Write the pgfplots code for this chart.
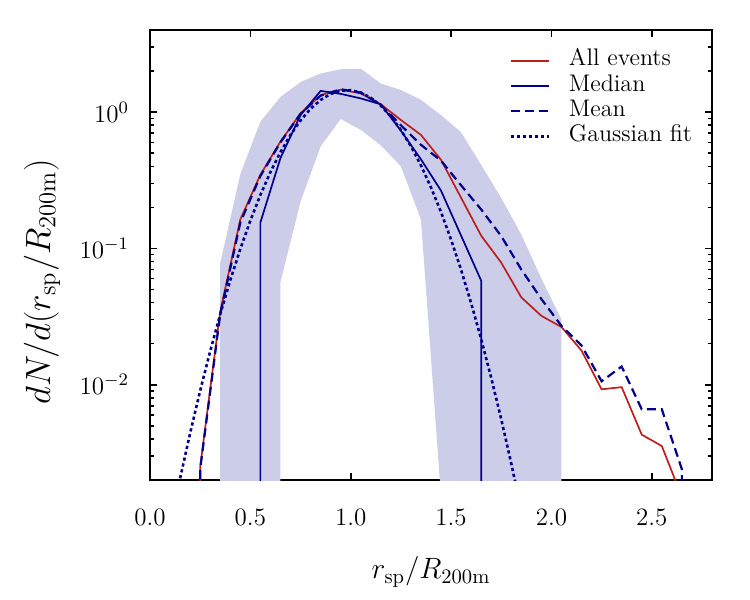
\documentclass[border=0pt]{standalone}
\usepackage{fix-cm}
\usepackage{pgfplots}
\pgfplotsset{compat=1.18}
\definecolor{cred}{RGB}{190,30,30}
\definecolor{cblue}{RGB}{0,0,140}
\definecolor{cband}{RGB}{204,205,232}
\begin{document}
\begin{tikzpicture}
\useasboundingbox (-75pt,-60pt) rectangle (300pt,240pt);
\begin{axis}[
 at={(0,0)}, anchor=south west,
 scale only axis, width=281pt, height=225pt,
 xmin=0, xmax=2.8, ymin=0.002, ymax=4, ymode=log,
 xtick={0,0.5,1,1.5,2,2.5},
 xticklabels={0.0,0.5,1.0,1.5,2.0,2.5},
 ytick={0.01,0.1,1},
 yticklabels={$10^{-2}$,$10^{-1}$,$10^{0}$},
 minor ytick={0.003,0.004,0.005,0.006,0.007,0.008,0.009,0.02,0.03,0.04,0.05,0.06,0.07,0.08,0.09,0.2,0.3,0.4,0.5,0.6,0.7,0.8,0.9,2,3},
 tick align=inside,
 major tick length=3.5pt, minor tick length=2pt,
 every tick/.style={black, line width=0.8pt},
 axis line style={line width=1pt},
 tick label style={font=\fontsize{12.5}{15}\selectfont},
 xticklabel style={anchor=center, yshift=-18.5pt},
 yticklabel style={anchor=east, xshift=-7pt},
 xlabel={$r_{\mathrm{sp}}/R_{\mathrm{200m}}$},
 ylabel={$dN/d(r_{\mathrm{sp}}/R_{\mathrm{200m}})$},
 xlabel style={font=\fontsize{14.7}{17}\selectfont, at={(axis description cs:0.5,-0.204)}, anchor=center},
 ylabel style={font=\fontsize{17.5}{20}\selectfont, at={(axis description cs:-0.192,0.44)}, anchor=center},
 legend style={at={(axis description cs:0.628,0.9635)}, anchor=north west, draw=none, fill=none,
   font=\fontsize{12}{14}\selectfont, row sep=2.6pt,
   nodes={inner sep=0pt, text height=0.75em, text depth=0.25em},
   /tikz/every odd column/.append style={column sep=9.5pt}},
 legend cell align=left,
 legend image code/.code={\draw[#1] (0pt,0pt) -- (19pt,0pt);},
]
% band
\addplot[fill=cband, draw=none, forget plot] coordinates {
 (0.35,0.001) (0.35,0.078) (0.45,0.35) (0.55,0.85) (0.65,1.29) (0.75,1.66) (0.85,1.92)
 (0.95,2.06) (1.05,2.08) (1.15,1.62) (1.25,1.45) (1.35,1.23) (1.45,0.95) (1.55,0.71)
 (1.65,0.41) (1.75,0.234) (1.85,0.126) (1.95,0.060) (2.05,0.030) (2.05,0.001)
 (1.45,0.0015) (1.35,0.163) (1.25,0.40) (1.15,0.57) (1.05,0.74) (0.95,0.89) (0.85,0.56)
 (0.75,0.22) (0.65,0.057) (0.65,0.001)};
% all events
\addplot[cred, line width=0.85pt] coordinates {
 (0.25,0.001) (0.25,0.0025) (0.35,0.0345) (0.45,0.163) (0.55,0.347) (0.65,0.607) (0.75,0.98)
 (0.85,1.33) (0.95,1.46) (1.05,1.37) (1.15,1.14) (1.25,0.875) (1.35,0.68) (1.45,0.446)
 (1.55,0.235) (1.65,0.124) (1.75,0.0786) (1.85,0.0437) (1.95,0.032) (2.05,0.0265)
 (2.15,0.0178) (2.25,0.00925) (2.35,0.0096) (2.45,0.0043) (2.55,0.00355) (2.65,0.0015)};
\addlegendentry{All events}
% median
\addplot[cblue, line width=0.85pt] coordinates {
 (0.55,0.001) (0.55,0.155) (0.65,0.46) (0.75,0.95) (0.85,1.43) (0.95,1.36) (1.05,1.26)
 (1.15,1.14) (1.25,0.73) (1.35,0.45) (1.45,0.265) (1.55,0.124) (1.65,0.058) (1.65,0.001)};
\addlegendentry{Median}
% mean
\addplot[cblue, line width=1.1pt, dash pattern=on 4.5pt off 2.5pt] coordinates {
 (0.25,0.001) (0.25,0.0024) (0.35,0.033) (0.45,0.155) (0.55,0.34) (0.65,0.60) (0.75,0.97)
 (0.85,1.32) (0.95,1.47) (1.05,1.39) (1.15,1.13) (1.25,0.80) (1.35,0.575) (1.45,0.44)
 (1.55,0.29) (1.65,0.193) (1.75,0.123) (1.85,0.070) (1.95,0.0425) (2.05,0.027)
 (2.15,0.0194) (2.25,0.0106) (2.35,0.0136) (2.45,0.0066) (2.55,0.0066) (2.65,0.0024) (2.65,0.001)};
\addlegendentry{Mean}
% gaussian fit
\addplot[cblue, line width=1.3pt, dash pattern=on 1.6pt off 1.4pt] coordinates {
 (0.15,0.00206) (0.20,0.00441) (0.25,0.00904) (0.30,0.01764) (0.35,0.0329) (0.40,0.0584)
 (0.45,0.0989) (0.50,0.160) (0.55,0.2465) (0.60,0.3625) (0.65,0.508) (0.70,0.680)
 (0.75,0.868) (0.80,1.057) (0.85,1.227) (0.90,1.359) (0.95,1.435) (1.00,1.446)
 (1.05,1.390) (1.10,1.274) (1.15,1.114) (1.20,0.929) (1.25,0.739) (1.30,0.561)
 (1.35,0.406) (1.40,0.280) (1.45,0.1846) (1.50,0.116) (1.55,0.0695) (1.60,0.0397)
 (1.65,0.0216) (1.70,0.01124) (1.75,0.00558) (1.80,0.00264) (1.85,0.00119)};
\addlegendentry{Gaussian fit}
\end{axis}
\end{tikzpicture}
\end{document}
